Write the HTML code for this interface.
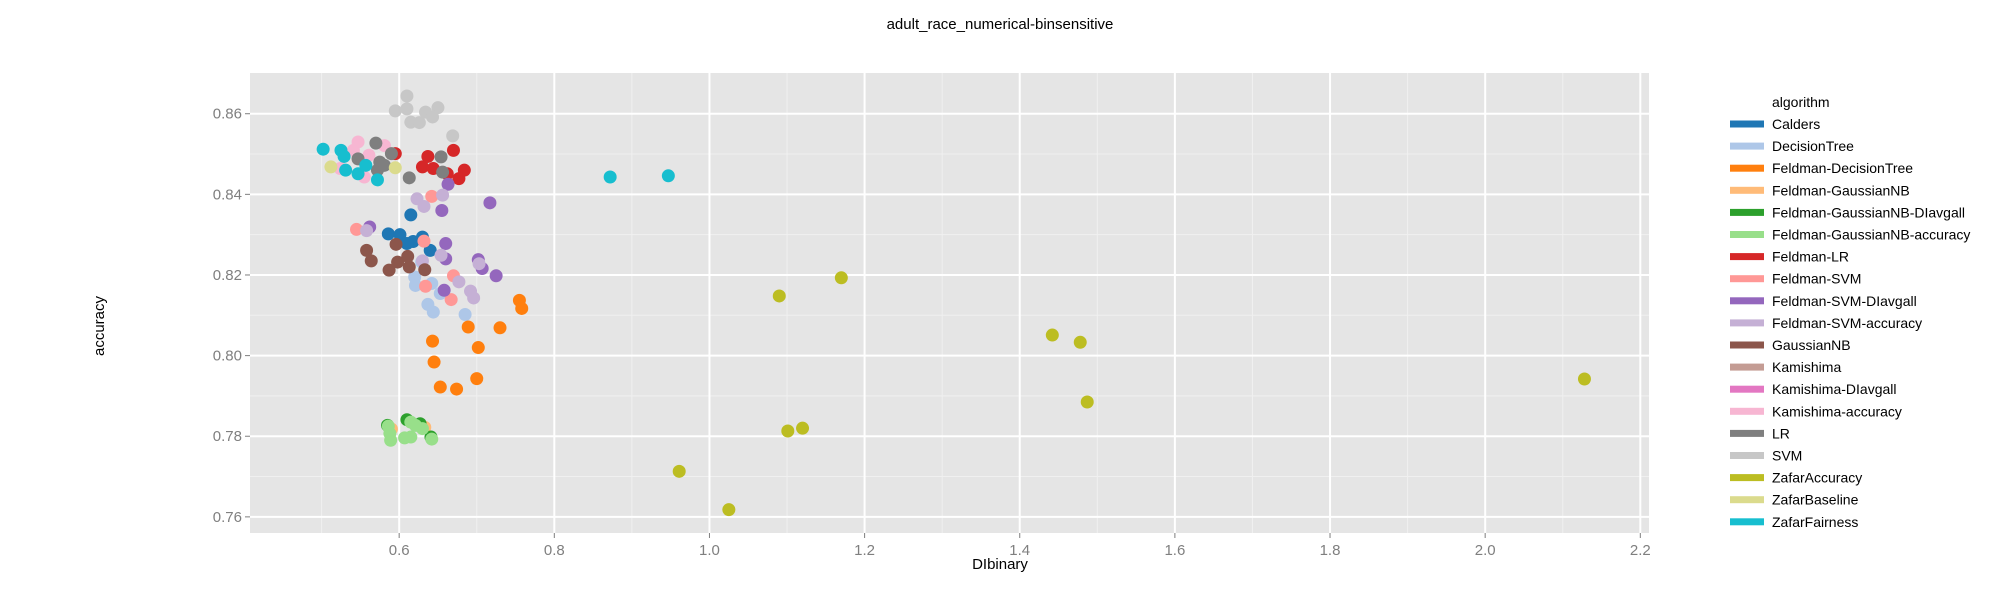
<!DOCTYPE html>
<html><head><meta charset="utf-8"><style>
body{margin:0;background:#fff;width:2000px;height:600px;overflow:hidden;font-family:"Liberation Sans",sans-serif}
</style></head><body>
<svg id="chart" width="2000" height="600" xmlns="http://www.w3.org/2000/svg"></svg>
<script>
const seriesNames=["Calders","DecisionTree","Feldman-DecisionTree","Feldman-GaussianNB","Feldman-GaussianNB-DIavgall","Feldman-GaussianNB-accuracy","Feldman-LR","Feldman-SVM","Feldman-SVM-DIavgall","Feldman-SVM-accuracy","GaussianNB","Kamishima","Kamishima-DIavgall","Kamishima-accuracy","LR","SVM","ZafarAccuracy","ZafarBaseline","ZafarFairness"];
const seriesColors=["#1f77b4","#aec7e8","#ff7f0e","#ffbb78","#2ca02c","#98df8a","#d62728","#ff9896","#9467bd","#c5b0d5","#8c564b","#c49c94","#e377c2","#f7b6d2","#7f7f7f","#c7c7c7","#bcbd22","#dbdb8d","#17becf"];
const xTicks=[0.6,0.8,1.0,1.2,1.4,1.6,1.8,2.0,2.2];
const xTickLabels=["0.6","0.8","1.0","1.2","1.4","1.6","1.8","2.0","2.2"];
const yTicks=[0.76,0.78,0.80,0.82,0.84,0.86];
const yTickLabels=["0.76","0.78","0.80","0.82","0.84","0.86"];
const xMinor=[0.5,0.7,0.9,1.1,1.3,1.5,1.7,1.9,2.1];
const yMinor=[0.77,0.79,0.81,0.83,0.85];
const dCalders=[[0.615,0.8349],[0.586,0.8302],[0.601,0.830],[0.618,0.8283],[0.630,0.8294],[0.640,0.8261],[0.610,0.8278]];
const dDecisionTree=[[0.620,0.8195],[0.621,0.8174],[0.642,0.8179],[0.653,0.8154],[0.637,0.8127],[0.644,0.8108],[0.685,0.8102],[0.629,0.8232]];
const dFeldmanDT=[[0.755,0.8137],[0.758,0.8117],[0.689,0.8071],[0.730,0.8069],[0.643,0.8036],[0.702,0.802],[0.645,0.7984],[0.700,0.7943],[0.653,0.7922],[0.674,0.7917]];
const dFeldmanGNB=[[0.590,0.7818],[0.633,0.7822]];
const dFeldmanGNBDI=[[0.585,0.7827],[0.610,0.7841],[0.641,0.7798],[0.627,0.7831]];
const dFeldmanGNBAcc=[[0.586,0.7825],[0.588,0.7807],[0.589,0.779],[0.607,0.7796],[0.615,0.7798],[0.615,0.7835],[0.630,0.7819],[0.642,0.7793],[0.621,0.7827]];
const dFeldmanLR=[[0.595,0.8501],[0.637,0.8494],[0.630,0.8468],[0.644,0.8464],[0.670,0.8509],[0.662,0.8451],[0.684,0.846],[0.677,0.8439]];
const dFeldmanSVM=[[0.642,0.8395],[0.545,0.8313],[0.632,0.8284],[0.670,0.8198],[0.634,0.8172],[0.667,0.8139]];
const dFeldmanSVMDI=[[0.663,0.8425],[0.717,0.8379],[0.655,0.836],[0.562,0.8319],[0.660,0.8278],[0.660,0.824],[0.702,0.8238],[0.707,0.8216],[0.725,0.8198],[0.658,0.8162]];
const dFeldmanSVMAcc=[[0.623,0.8389],[0.632,0.837],[0.656,0.8398],[0.558,0.831],[0.654,0.8249],[0.630,0.8235],[0.703,0.8228],[0.677,0.8183],[0.692,0.816],[0.696,0.8143]];
const dGaussianNB=[[0.596,0.8276],[0.558,0.8261],[0.564,0.8235],[0.587,0.8212],[0.598,0.8232],[0.611,0.8246],[0.613,0.822],[0.633,0.8213]];
const dKamishima=[];
const dKamishimaDI=[];
const dKamishimaAcc=[[0.547,0.853],[0.561,0.8497],[0.581,0.8521],[0.555,0.8443],[0.524,0.8464],[0.541,0.8509]];
const dLR=[[0.570,0.8527],[0.547,0.8488],[0.590,0.8501],[0.575,0.848],[0.572,0.846],[0.613,0.8441],[0.654,0.8493],[0.656,0.8455],[0.581,0.8472]];
const dSVM=[[0.610,0.8644],[0.595,0.8607],[0.610,0.8612],[0.634,0.8604],[0.650,0.8615],[0.615,0.8579],[0.626,0.8578],[0.643,0.8592],[0.669,0.8545]];
const dZafarAcc=[[1.170,0.8193],[1.090,0.8148],[1.101,0.7813],[1.120,0.782],[0.961,0.7713],[1.025,0.7618],[1.442,0.8051],[1.478,0.8033],[1.487,0.7885],[2.128,0.7942]];
const dZafarBase=[[0.512,0.8468],[0.595,0.8466]];
const dZafarFair=[[0.502,0.8512],[0.525,0.8509],[0.529,0.8494],[0.531,0.846],[0.547,0.8451],[0.557,0.8472],[0.572,0.8436],[0.872,0.8443],[0.947,0.8446]];
const seriesData=[dCalders,dDecisionTree,dFeldmanDT,dFeldmanGNB,dFeldmanGNBDI,dFeldmanGNBAcc,dFeldmanLR,dFeldmanSVM,dFeldmanSVMDI,dFeldmanSVMAcc,dGaussianNB,dKamishima,dKamishimaDI,dKamishimaAcc,dLR,dSVM,dZafarAcc,dZafarBase,dZafarFair];

const NS="http://www.w3.org/2000/svg";
const svg=document.getElementById('chart');
const PL=250,PR=1649,PT=73,PB=533;
const X0=0.4077,X1=2.2112,Y0=0.756,Y1=0.8701;
function xs(v){return PL+(v-X0)/(X1-X0)*(PR-PL);}
function ys(v){return PB-(v-Y0)/(Y1-Y0)*(PB-PT);}
function mk(tag,attrs,parent){const e=document.createElementNS(NS,tag);for(const k in attrs)e.setAttribute(k,attrs[k]);(parent||svg).appendChild(e);return e;}

const title=mk('text',{x:1000,y:29,'text-anchor':'middle','font-size':15,fill:'#000'});


title.textContent='adult_race_numerical-binsensitive';

const panel=mk('rect',{x:PL,y:PT,width:PR-PL,height:PB-PT,fill:'#e5e5e5'});



const grid=mk('g',{});


xMinor.forEach(v=>mk('line',{x1:xs(v),x2:xs(v),y1:PT,y2:PB,stroke:'#f0f0f0','stroke-width':1},grid));
yMinor.forEach(v=>mk('line',{x1:PL,x2:PR,y1:ys(v),y2:ys(v),stroke:'#f0f0f0','stroke-width':1},grid));
xTicks.forEach(v=>mk('line',{x1:xs(v),x2:xs(v),y1:PT,y2:PB,stroke:'#fff','stroke-width':2},grid));
yTicks.forEach(v=>mk('line',{x1:PL,x2:PR,y1:ys(v),y2:ys(v),stroke:'#fff','stroke-width':2},grid));

const xAxis=mk('g',{});


xTicks.forEach((v,i)=>{
  mk('line',{x1:xs(v),x2:xs(v),y1:PB,y2:PB+5,stroke:'#7f7f7f','stroke-width':1},xAxis);
  const t=mk('text',{x:xs(v),y:PB+22,'text-anchor':'middle','font-size':15,fill:'#7f7f7f'},xAxis);
  t.textContent=xTickLabels[i];
});
const yAxis=mk('g',{});


yTicks.forEach((v,i)=>{
  mk('line',{x1:PL-5,x2:PL,y1:ys(v),y2:ys(v),stroke:'#7f7f7f','stroke-width':1},yAxis);
  const t=mk('text',{x:PL-8,y:ys(v)+5,'text-anchor':'end','font-size':15,fill:'#7f7f7f'},yAxis);
  t.textContent=yTickLabels[i];
});
const xl=mk('text',{x:1000,y:569,'text-anchor':'middle','font-size':15,fill:'#000'});


xl.textContent='DIbinary';
const yl=mk('text',{x:0,y:0,'text-anchor':'middle','font-size':15,fill:'#000',transform:'translate(104,326) rotate(-90)'});


yl.textContent='accuracy';

const pts=mk('g',{});


seriesData.forEach((arr,si)=>{
  arr.forEach(p=>{
    const c=mk('circle',{cx:xs(p[0]),cy:ys(p[1]),r:6.5,fill:seriesColors[si]},pts);
    
    
  });
});

const lg=mk('g',{});


const lt=mk('text',{x:1772,y:107,'font-size':14,fill:'#000'},lg);


lt.textContent='algorithm';
seriesNames.forEach((n,i)=>{
  const y=124+i*22.1;
  const g=mk('g',{},lg);
  
  
  mk('rect',{x:1730,y:y-3.5,width:34,height:7,fill:seriesColors[i]},g);
  const t=mk('text',{x:1772,y:y+5,'font-size':14,fill:'#000'},g);
  t.textContent=n;
});
</script>
</body></html>
